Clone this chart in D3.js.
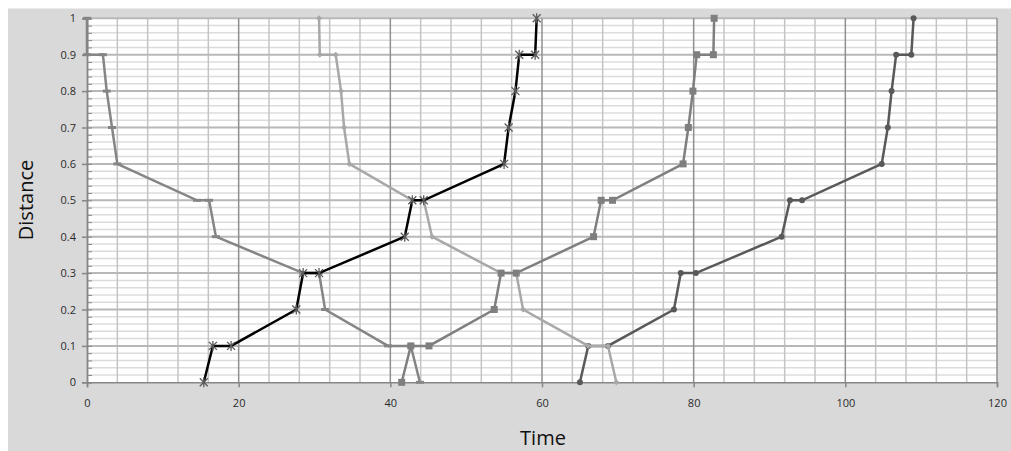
<!DOCTYPE html>
<html>
<head>
<meta charset="utf-8">
<script src="https://cdnjs.cloudflare.com/ajax/libs/d3/7.8.5/d3.min.js"></script>
<style>
  body { margin: 0; background: #ffffff; }
  svg { display: block; }
</style>
</head>
<body>
<div id="mainplot"></div>
<script>
// distances at each stop, for trains going down (1 -> 0) and up (0 -> 1)
var distDown = [1, 0.9, 0.9, 0.8, 0.7, 0.6, 0.5, 0.5, 0.4, 0.3, 0.3, 0.2, 0.1, 0.1, 0];
var distUp   = [0, 0.1, 0.1, 0.2, 0.3, 0.3, 0.4, 0.5, 0.5, 0.6, 0.7, 0.8, 0.9, 0.9, 1];

// times
var timeA = [0, 0, 2.1, 2.6, 3.3, 4.0, 14.5, 16.1, 17.0, 28.5, 30.6, 31.4, 39.7, 42.7, 43.9];
var timeB = [15.4, 16.6, 19.0, 27.6, 28.5, 30.6, 41.9, 42.9, 44.4, 55.0, 55.6, 56.5, 57.0, 59.1, 59.3];
var timeC = [30.6, 30.7, 32.8, 33.5, 33.9, 34.6, 42.9, 44.4, 45.5, 54.6, 56.6, 57.5, 66.1, 68.7, 69.8];
var timeD = [41.5, 42.7, 45.1, 53.7, 54.6, 56.6, 66.8, 67.8, 69.3, 78.6, 79.3, 79.9, 80.4, 82.6, 82.7];
var timeE = [65.0, 66.1, 68.7, 77.4, 78.3, 80.3, 91.6, 92.7, 94.3, 104.8, 105.6, 106.1, 106.7, 108.7, 109.0];

var xTicks = [0, 20, 40, 60, 80, 100, 120];
var yTicks = [0, 0.1, 0.2, 0.3, 0.4, 0.5, 0.6, 0.7, 0.8, 0.9, 1];

var outerWidth = 1011, outerHeight = 451;
var margin = {left: 87, top: 18.3, right: 14, bottom: 68.7};
var width  = outerWidth - margin.left - margin.right,
    height = outerHeight - margin.top - margin.bottom;

var outer = d3.select('#mainplot').append('svg')
    .attr('width', outerWidth)
    .attr('height', outerHeight);

// grey chart area
outer.append('rect')
    .attr('x', 8)
    .attr('y', 8.5)
    .attr('width', outerWidth - 8)
    .attr('height', outerHeight - 8.5)
    .attr('fill', '#d9d9d9');

var inner = outer.append('g')
    .attr('transform', 'translate(' + margin.left + ',' + margin.top + ')');

inner.append('rect')
    .attr('width', width)
    .attr('height', height)
    .attr('fill', '#ffffff');

var Xscale = d3.scaleLinear().domain([0, 120]).range([0, width]);
var Yscale = d3.scaleLinear().domain([0, 1]).range([height, 0]);

// minor gridlines
inner.append('g').selectAll('line')
    .data(d3.range(0.02, 1, 0.02).filter(function(v) { return Math.round(v * 50) % 5 != 0; }))
    .enter().append('line')
    .attr('x1', 0).attr('x2', width)
    .attr('y1', function(d) { return Yscale(d); })
    .attr('y2', function(d) { return Yscale(d); })
    .style('stroke', '#dcdcdc')
    .style('stroke-width', 1.5);

inner.append('g').selectAll('line')
    .data(d3.range(4, 120, 4).filter(function(v) { return v % 20 != 0; }))
    .enter().append('line')
    .attr('y1', 0).attr('y2', height)
    .attr('x1', function(d) { return Xscale(d); })
    .attr('x2', function(d) { return Xscale(d); })
    .style('stroke', '#c4c4c4')
    .style('stroke-width', 1.5);

// major gridlines
inner.append('g').selectAll('line')
    .data(yTicks.slice(1))
    .enter().append('line')
    .attr('x1', 0).attr('x2', width)
    .attr('y1', function(d) { return Yscale(d); })
    .attr('y2', function(d) { return Yscale(d); })
    .style('stroke', '#b8b8b8')
    .style('stroke-width', 2);

inner.append('g').selectAll('line')
    .data(xTicks.slice(1))
    .enter().append('line')
    .attr('y1', 0).attr('y2', height)
    .attr('x1', function(d) { return Xscale(d); })
    .attr('x2', function(d) { return Xscale(d); })
    .style('stroke', '#8f8f8f')
    .style('stroke-width', 1.5);

// X axis
var axisX = inner.append('g')
    .attr('transform', 'translate(0,' + height + ')')
    .call(d3.axisBottom(Xscale).tickValues(xTicks).tickSize(5).tickPadding(12).tickFormat(d3.format('d')));

// Y axis, minor ticks inside
inner.append('g')
    .call(d3.axisRight(Yscale).tickValues(d3.range(0, 1.001, 0.02)).tickSize(5).tickFormat(''));

var axisY = inner.append('g')
    .call(d3.axisLeft(Yscale).tickValues(yTicks).tickSize(5).tickPadding(6)
        .tickFormat(function(d) { return d3.format('~g')(d); }));

[axisX, axisY].forEach(function(ax) {
    ax.selectAll('path, line').style('stroke', '#868686').style('stroke-width', 1.5);
    ax.selectAll('text')
        .style('font-family', '"Open Sans", sans-serif')
        .style('font-size', '11px')
        .style('fill', '#2b2b2b');
});
inner.selectAll('.tick line').style('stroke', '#868686');
inner.selectAll('.domain').style('stroke', '#868686').style('stroke-width', 1.5);

// axis titles
outer.append('text')
    .attr('x', 543)
    .attr('y', 445)
    .style('text-anchor', 'middle')
    .style('font-family', '"Open Sans", sans-serif')
    .style('font-size', '20px')
    .style('fill', '#111')
    .text('Time');

outer.append('text')
    .attr('transform', 'translate(' + 33 + ',' + 200 + ') rotate(-90)')
    .style('text-anchor', 'middle')
    .style('font-family', '"Open Sans", sans-serif')
    .style('font-size', '20px')
    .style('fill', '#111')
    .text('Distance');

// train paths
var trainLine = d3.line()
    .x(function(d) { return Xscale(d.t); })
    .y(function(d) { return Yscale(d.d); });

function pairs(times, dists) {
    return times.map(function(t, i) { return {t: t, d: dists[i]}; });
}

var trains = [
    {data: pairs(timeA, distDown), color: '#858585', marker: 'dash'},
    {data: pairs(timeE, distUp),   color: '#595959', marker: 'circle'},
    {data: pairs(timeC, distDown), color: '#a8a8a8', marker: 'diamond'},
    {data: pairs(timeD, distUp),   color: '#7f7f7f', marker: 'square'},
    {data: pairs(timeB, distUp),   color: '#000000', marker: 'star'}
];

trains.forEach(function(tr) {
    var g = inner.append('g');

    g.append('path')
        .datum(tr.data)
        .attr('d', trainLine)
        .style('stroke', tr.color)
        .style('stroke-width', 2.5)
        .style('fill', 'none');

    var pts = g.selectAll('g.pt')
        .data(tr.data)
        .enter().append('g')
        .attr('class', 'pt')
        .attr('transform', function(d) { return 'translate(' + Xscale(d.t) + ',' + Yscale(d.d) + ')'; });

    if (tr.marker == 'dash') {
        pts.append('rect')
            .attr('x', -4).attr('y', -1.5).attr('width', 8).attr('height', 3)
            .attr('fill', tr.color);
    } else if (tr.marker == 'circle') {
        pts.append('circle').attr('r', 3).attr('fill', tr.color);
    } else if (tr.marker == 'diamond') {
        pts.append('path').attr('d', 'M0,-3L3,0L0,3L-3,0Z').attr('fill', tr.color);
    } else if (tr.marker == 'square') {
        pts.append('rect')
            .attr('x', -3.5).attr('y', -3.5).attr('width', 7).attr('height', 7)
            .attr('fill', tr.color);
    } else {
        pts.append('path')
            .attr('d', 'M-4,-4L4,4M-4,4L4,-4M0,-5L0,5')
            .style('stroke', '#5a5a5a')
            .style('stroke-width', 1.3);
    }
});
</script>
</body>
</html>
